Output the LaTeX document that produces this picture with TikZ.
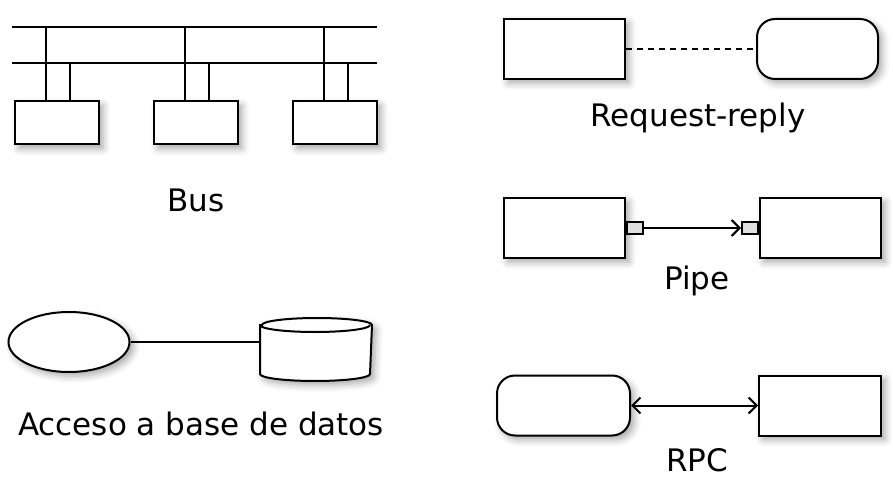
\documentclass[tikz,border=0pt]{standalone}
\usepackage{fontspec}
\setmainfont{DejaVu Sans}
\usetikzlibrary{shapes.geometric,arrows.meta,shadows.blur}

\begin{document}
\begin{tikzpicture}
[
    x=1pt, y=-1pt,
    line width=2pt,
    softshadow/.style={blur shadow={shadow xshift=4pt, shadow yshift=-4pt, shadow blur radius=7pt, shadow opacity=35}},
    box/.style={draw, fill=white, softshadow, inner sep=0pt, minimum width=121pt, minimum height=60pt},
    smallbox/.style={draw, fill=white, softshadow, inner sep=0pt, minimum width=84pt, minimum height=43pt},
    roundbox/.style={box, rounded corners=18pt},
    port/.style={draw, fill=gray!25, inner sep=0pt, minimum width=16pt, minimum height=12pt},
    caption/.style={font=\fontsize{31}{34}\selectfont},
]
\useasboundingbox (0,0) rectangle (893,486);

% bus
\coordinate (bustopl) at (12,27);
\coordinate (bustopr) at (377,27);
\coordinate (buslowl) at (12,63);
\coordinate (buslowr) at (377,63);
\draw (bustopl) -- (bustopr);
\draw (buslowl) -- (buslowr);
\node [smallbox] (b1) at (57,123) {};
\node [smallbox] (b2) at (196,123) {};
\node [smallbox] (b3) at (335,123) {};
\foreach \b in {b1,b2,b3} {
    \draw ([xshift=-11pt]\b.north) -- ([xshift=-11pt]\b.north |- bustopl);
    \draw ([xshift=13pt]\b.north) -- ([xshift=13pt]\b.north |- buslowl);
}
\node [caption] (buslabel) at (196,200) {Bus};

% request-reply
\node [box] (req) at (564.5,49) {};
\node [roundbox] (rep) at (817.5,49) {};
\draw [dash pattern=on 6pt off 5pt] (req) -- (rep);
\node [caption] (reqlabel) at (698,118) {Request-reply};

% pipe
\node [box] (pipeA) at (564.5,228) {};
\node [box] (pipeB) at (820.5,228) {};
\node [port, anchor=west] (portA) at (pipeA.east) {};
\node [port, anchor=east] (portB) at (pipeB.west) {};
\draw [-{Straight Barb[length=8pt,width=16pt]}] (portA) -- (portB);
\node [caption] (pipelabel) at (697,281) {Pipe};

% acceso a base de datos
\node [ellipse, draw, fill=white, softshadow, inner sep=0pt, minimum width=121pt, minimum height=60pt] (client) at (69,342) {};
\node [inner sep=0pt, minimum width=110pt, minimum height=61pt] (db) at (316,349.5) {};
\draw [fill=white, softshadow] ([yshift=-7pt]db.north west) -- ([yshift=7pt]db.south west)
    arc (180:360:55pt and 7pt) -- ([yshift=-7pt]db.north east)
    arc (0:180:55pt and 7pt) -- cycle;
\draw ([yshift=-7pt]db.north west) arc (180:360:55pt and 7pt);
\draw (client.east) -- (client.east -| db.west);
\node [caption] (dblabel) at (201,424) {Acceso a base de datos};

% rpc
\node [roundbox, minimum width=133pt] (rpcA) at (563.5,405.5) {};
\node [box, minimum width=122pt] (rpcB) at (820,405.5) {};
\draw [{Straight Barb[length=8pt,width=16pt]}-{Straight Barb[length=8pt,width=16pt]}] (rpcA) -- (rpcB);
\node [caption] (rpclabel) at (697,460) {RPC};
\end{tikzpicture}
\end{document}
